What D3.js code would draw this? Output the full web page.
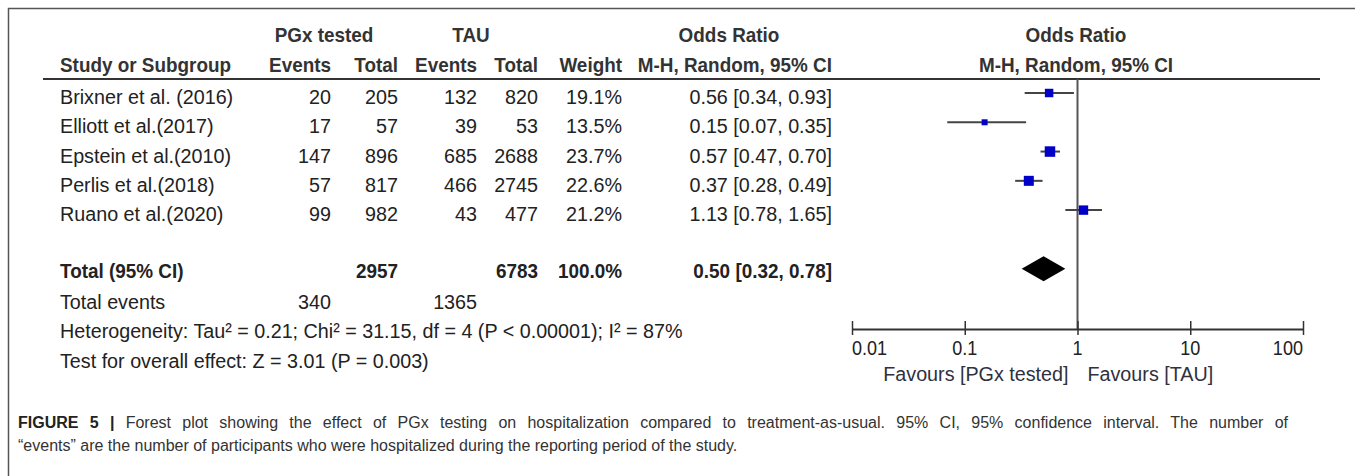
<!DOCTYPE html>
<html>
<head>
<meta charset="utf-8">
<script src="https://cdn.jsdelivr.net/npm/d3@7"></script>
<style>
  html, body { margin: 0; padding: 0; background: #fff; }
  svg { display: block; }
  .t text { font-family: "Liberation Sans", Arial, sans-serif; font-size: 21px; fill: #222; }
  .h text { font-weight: bold; fill: #333; }
  .b text { font-weight: bold; }
  .cap text { font-family: "Liberation Sans", Arial, sans-serif; font-size: 16px; fill: #333; }
</style>
</head>
<body>
<svg id="chart" width="1355" height="476"></svg>
<script>
// ---------------- data ----------------
const studies   = ["Brixner et al. (2016)", "Elliott et al.(2017)", "Epstein et al.(2010)", "Perlis et al.(2018)", "Ruano et al.(2020)"];
const pgxEvents = [20, 17, 147, 57, 99];
const pgxTotal  = [205, 57, 896, 817, 982];
const tauEvents = [132, 39, 685, 466, 43];
const tauTotal  = [820, 53, 2688, 2745, 477];
const weights   = [19.1, 13.5, 23.7, 22.6, 21.2];
const orEst     = [0.56, 0.15, 0.57, 0.37, 1.13];
const orLow     = [0.34, 0.07, 0.47, 0.28, 0.78];
const orHigh    = [0.93, 0.35, 0.70, 0.49, 1.65];

const pooledEst = 0.50, pooledLow = 0.32, pooledHigh = 0.78;
const sumPgxTotal = 2957, sumTauTotal = 6783, sumWeight = "100.0%";
const sumPgxEvents = 340, sumTauEvents = 1365;

const axisTicks = [0.01, 0.1, 1, 10, 100];
const axisTickLabels = ["0.01", "0.1", "1", "10", "100"];

const headerTop = ["PGx tested", "TAU", "Odds Ratio", "Odds Ratio"];
const headerSub = ["Study or Subgroup", "Events", "Total", "Events", "Total", "Weight", "M-H, Random, 95% CI", "M-H, Random, 95% CI"];
const footLines = [
  "Heterogeneity: Tau\u00B2 = 0.21; Chi\u00B2 = 31.15, df = 4 (P < 0.00001); I\u00B2 = 87%",
  "Test for overall effect: Z = 3.01 (P = 0.003)"
];
const favours = ["Favours [PGx tested]", "Favours [TAU]"];
const captionBold = "FIGURE 5 |";
const captionLines = [
  " Forest plot showing the effect of PGx testing on hospitalization compared to treatment-as-usual. 95% CI, 95% confidence interval. The number of",
  "\u201Cevents\u201D are the number of participants who were hospitalized during the reporting period of the study."
];

// ---------------- layout ----------------
const svg = d3.select("#chart");
const fmt2 = d3.format(".2f");
const fmtCI = i => `${fmt2(orEst[i])} [${fmt2(orLow[i])}, ${fmt2(orHigh[i])}]`;

const SX_REG = 0.94, SX_BOLD = 0.9;
function txt(g, x, y, anchor, s, sx) {
  return g.append("text")
    .attr("transform", `translate(${x},${y}) scale(${sx},1)`)
    .attr("text-anchor", anchor)
    .text(s);
}

// column x positions (text anchors)
const colX = { study: 60, pe: 331, pt: 398, te: 477, tt: 538, w: 622, or: 832 };

// row scale
const rowKeys = ["r0", "r1", "r2", "r3", "r4", "gap", "total", "tev", "het", "test"];
const y = d3.scalePoint().domain(rowKeys).range([94.5, 358]);
const base = 9.5; // text baseline offset from row centre

// x log scale for the plot
const x = d3.scaleLog().domain([0.01, 100]).range([852, 1303]);

// frame
svg.append("path")
  .attr("d", "M8.5,476 L8.5,8.5 L1355,8.5")
  .attr("fill", "none").attr("stroke", "#555").attr("stroke-width", 1.5);

// headers
const hdr = svg.append("g").attr("class", "t h");
const topPos = [[324, "middle"], [471, "middle"], [729, "middle"], [1076, "middle"]];
headerTop.forEach((s, i) => txt(hdr, topPos[i][0], 42, topPos[i][1], s, SX_BOLD));
const subPos = [[colX.study, "start"], [colX.pe, "end"], [colX.pt, "end"], [colX.te, "end"], [colX.tt, "end"], [colX.w, "end"], [colX.or, "end"], [1076, "middle"]];
headerSub.forEach((s, i) => txt(hdr, subPos[i][0], 71.5, subPos[i][1], s, SX_BOLD));

// header rule
svg.append("line").attr("x1", 43).attr("x2", 1320).attr("y1", 79).attr("y2", 79)
  .attr("stroke", "#333").attr("stroke-width", 2);

// study rows
const rows = svg.append("g").attr("class", "t");
studies.forEach((s, i) => {
  const yy = y("r" + i) + base;
  [
    [colX.study, "start", s],
    [colX.pe, "end", pgxEvents[i]],
    [colX.pt, "end", pgxTotal[i]],
    [colX.te, "end", tauEvents[i]],
    [colX.tt, "end", tauTotal[i]],
    [colX.w, "end", weights[i].toFixed(1) + "%"],
    [colX.or, "end", fmtCI(i)]
  ].forEach(c => txt(rows, c[0], yy, c[1], c[2], SX_REG));
});

// total row
const tg = svg.append("g").attr("class", "t b");
const ty = y("total") + base - 2;
[[colX.study, "start", "Total (95% CI)"], [colX.pt, "end", sumPgxTotal], [colX.tt, "end", sumTauTotal],
 [colX.w, "end", sumWeight], [colX.or, "end", `${fmt2(pooledEst)} [${fmt2(pooledLow)}, ${fmt2(pooledHigh)}]`]]
  .forEach(c => txt(tg, c[0], ty, c[1], c[2], SX_BOLD));

// total events + footer
const fg = svg.append("g").attr("class", "t");
const tey = y("tev") + base;
txt(fg, colX.study, tey, "start", "Total events", SX_REG);
txt(fg, colX.pe, tey, "end", sumPgxEvents, SX_REG);
txt(fg, colX.te, tey, "end", sumTauEvents, SX_REG);
txt(fg, colX.study, y("het") + base, "start", footLines[0], SX_REG);
txt(fg, colX.study, y("test") + base, "start", footLines[1], SX_REG);

// ---------------- plot ----------------
const axisY = 329;
// line of no effect
svg.append("line").attr("x1", x(1)).attr("x2", x(1)).attr("y1", 79).attr("y2", axisY)
  .attr("stroke", "#555").attr("stroke-width", 2);

const markY = i => y("r" + i) - 1.5;
const sizeScale = d3.scaleLinear().domain([0, d3.max(weights)]).range([0, 10.5]);
const plot = svg.append("g");
plot.selectAll("line.ci").data(studies).join("line").attr("class", "ci")
  .attr("x1", (d, i) => x(orLow[i])).attr("x2", (d, i) => x(orHigh[i]))
  .attr("y1", (d, i) => markY(i)).attr("y2", (d, i) => markY(i))
  .attr("stroke", "#444").attr("stroke-width", 2);
plot.selectAll("rect.pt").data(studies).join("rect").attr("class", "pt")
  .attr("x", (d, i) => x(orEst[i]) - sizeScale(weights[i]) / 2)
  .attr("y", (d, i) => markY(i) - sizeScale(weights[i]) / 2)
  .attr("width", (d, i) => sizeScale(weights[i]))
  .attr("height", (d, i) => sizeScale(weights[i]))
  .attr("fill", "#0000c8");

// pooled diamond
const dy = y("total") - 1.5, dh = 12.5;
plot.append("path")
  .attr("d", `M${x(pooledLow)},${dy} L${x(pooledEst)},${dy - dh} L${x(pooledHigh)},${dy} L${x(pooledEst)},${dy + dh} Z`)
  .attr("fill", "#000");

// axis
const axis = d3.axisBottom(x).tickValues(axisTicks).tickSizeOuter(0).tickSizeInner(6).tickFormat("");
const ag = svg.append("g").attr("transform", `translate(0,${axisY})`).call(axis);
ag.select(".domain").attr("stroke", "#333").attr("stroke-width", 2);
ag.selectAll(".tick line").attr("y1", -8).attr("y2", 6).attr("stroke", "#333").attr("stroke-width", 1.5);
const lab = svg.append("g").attr("class", "t");
axisTicks.forEach((v, i) => {
  const anchor = i === 0 ? "start" : (i === axisTicks.length - 1 ? "end" : "middle");
  txt(lab, x(v), 355, anchor, axisTickLabels[i], 0.86);
});
const fav = svg.append("g").attr("class", "t");
txt(fav, x(1) - 9, 381, "end", favours[0], SX_REG).style("fill", "#2f3040");
txt(fav, x(1) + 10, 381, "start", favours[1], SX_REG).style("fill", "#2f3040");

// ---------------- caption ----------------
const cap = svg.append("g").attr("class", "cap");
const c1 = cap.append("text").attr("x", 18).attr("y", 428);
c1.append("tspan").attr("font-weight", "bold").style("fill", "#222").text(captionBold);
c1.append("tspan").text(captionLines[0]);
// justify first line to the caption width
const targetW = 1288 - 18;
const curW = c1.node().getComputedTextLength();
const nSpaces = (captionBold + captionLines[0]).split(" ").length - 1;
if (curW < targetW) c1.attr("word-spacing", (targetW - curW) / nSpaces);
cap.append("text").attr("x", 18).attr("y", 451).text(captionLines[1]);
</script>
</body>
</html>
